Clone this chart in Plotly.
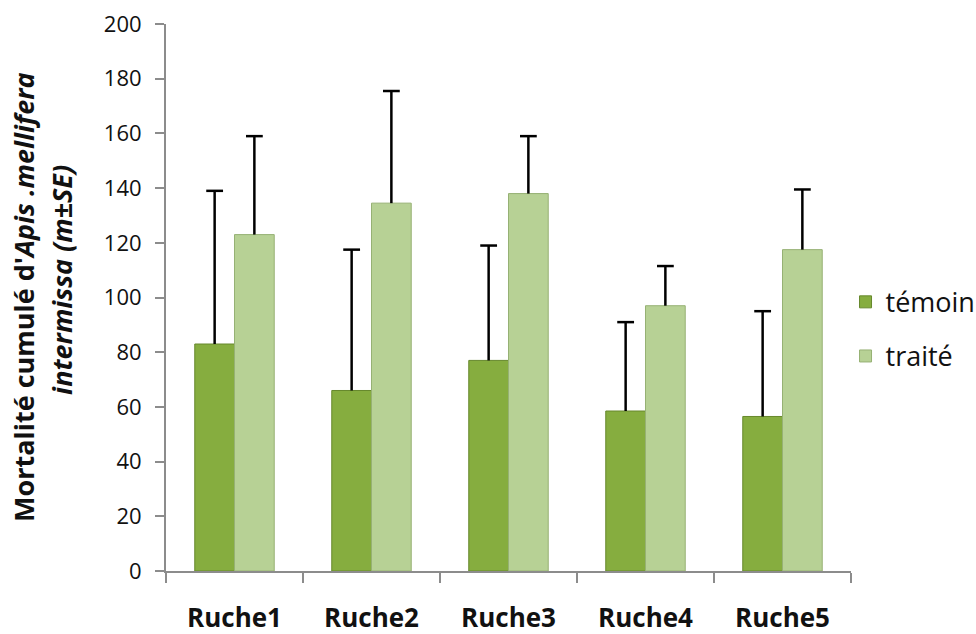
import plotly.graph_objects as go

categories = ["Ruche1", "Ruche2", "Ruche3", "Ruche4", "Ruche5"]
temoin = [83, 66, 77, 58.5, 56.5]
temoin_se = [56, 51.5, 42, 32.5, 38.5]
traite = [123, 134.5, 138, 97, 117.5]
traite_se = [36, 41, 21, 14.5, 22]
yticks = [0, 20, 40, 60, 80, 100, 120, 140, 160, 180, 200]

FONT = "Open Sans"
AX = "#8c8c8c"

fig = go.Figure()

def bar(name, vals, se, color, edge, grp):
    fig.add_trace(go.Bar(
        x=categories, y=vals, name=name, legendgroup=grp,
        marker=dict(color=color, line=dict(color=edge, width=1)),
        error_y=dict(type="data", symmetric=False, array=se,
                     arrayminus=[0] * len(se), width=0,
                     thickness=2.5, color="black"),
        offsetgroup=grp,
    ))

bar("témoin", temoin, temoin_se, "#86ad3f", "#66882c", "a")
bar("traité", traite, traite_se, "#b7d195", "#96b174", "b")

# caps at the top of the (plus-only) error bars
for vals, se, grp in [(temoin, temoin_se, "a"), (traite, traite_se, "b")]:
    fig.add_trace(go.Scatter(
        x=categories, y=[v + s for v, s in zip(vals, se)],
        mode="markers", showlegend=False, legendgroup=grp, offsetgroup=grp,
        marker=dict(symbol="line-ew", size=12, color="black",
                    line=dict(color="black", width=2.5)),
        hoverinfo="skip",
    ))

fig.update_layout(
    width=976, height=634,
    margin=dict(l=166, r=125, t=24, b=63, autoexpand=False),
    paper_bgcolor="white", plot_bgcolor="white",
    barmode="group", bargap=0.42, bargroupgap=0,
    scattermode="group", scattergap=0.42,
    font=dict(family=FONT, color="#111"),
    showlegend=True,
    legend=dict(x=0.992, xanchor="left", y=0.536, yanchor="top",
                font=dict(family=FONT, size=27, color="#111"),
                tracegroupgap=16, bgcolor="rgba(0,0,0,0)"),
    xaxis=dict(
        automargin=False,
        showline=True, linecolor=AX, linewidth=2,
        ticks="outside", tickson="boundaries", ticklen=10,
        tickcolor=AX, tickwidth=2,
        tickfont=dict(family=FONT, size=26, weight="bold", color="#111"),
        ticklabelstandoff=23, showgrid=False,
    ),
    yaxis=dict(
        automargin=False,
        range=[0, 200], tickvals=yticks, showline=True, linecolor=AX,
        linewidth=2, ticks="outside", ticklen=9, tickcolor=AX, tickwidth=2,
        tickfont=dict(family=FONT, size=22, color="#111"),
        ticklabelstandoff=9, showgrid=False, zeroline=False,
    ),
)

fig.add_annotation(
    text="<b>Mortalité cumulé d'<i>Apis .mellifera</i></b>",
    xref="paper", yref="paper", x=-0.2073, y=0.501,
    textangle=-90, showarrow=False, xanchor="center", yanchor="middle",
    font=dict(family=FONT, size=27, color="#111"),
)
fig.add_annotation(
    text="<b><i>intermissa (m±SE)</i></b>",
    xref="paper", yref="paper", x=-0.152, y=0.532,
    textangle=-90, showarrow=False, xanchor="center", yanchor="middle",
    font=dict(family=FONT, size=27, color="#111"),
)

fig.write_html(
    "out.html",
    config={"displayModeBar": False},
    post_script="document.body.style.margin='0';document.body.style.overflow='hidden';",
)
